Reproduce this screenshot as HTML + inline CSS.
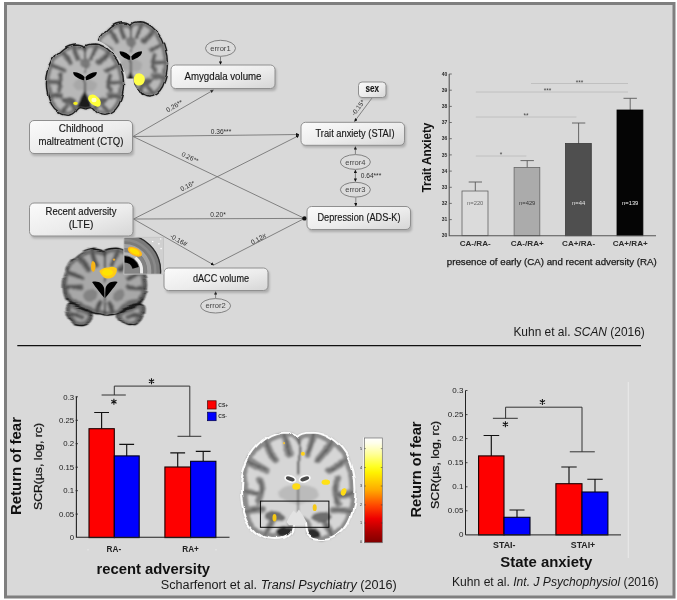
<!DOCTYPE html>
<html>
<head>
<meta charset="utf-8">
<title>Figure</title>
<style>
html,body{margin:0;padding:0;background:#fff;}
body{width:677px;height:600px;overflow:hidden;font-family:"Liberation Sans",sans-serif;}
svg{display:block;filter:blur(0.4px);}
text{font-family:"Liberation Sans",sans-serif;}
.bx{fill:url(#boxg);stroke:#8f8f8f;stroke-width:1;}
.ln{stroke:#6a6a6a;stroke-width:0.8;fill:none;}
.el{fill:#dcdcdc;stroke:#777;stroke-width:0.9;}
.bt{font-size:10.2px;fill:#161616;stroke:#161616;stroke-width:0.15px;}
.et{font-size:7.6px;fill:#444;}
.pl{font-size:6.6px;fill:#2c2c2c;}
.ax{stroke:#222;stroke-width:1;fill:none;}
</style>
</head>
<body>
<svg width="677" height="600" viewBox="0 0 677 600">
<defs>
  <linearGradient id="boxg" x1="0" y1="0" x2="1" y2="1">
    <stop offset="0" stop-color="#fbfbfb"/>
    <stop offset="0.55" stop-color="#ececec"/>
    <stop offset="1" stop-color="#d6d6d6"/>
  </linearGradient>
  <filter id="soft" x="-5%" y="-5%" width="110%" height="110%"><feGaussianBlur stdDeviation="0.45"/></filter>
  <filter id="bshadow" x="-10%" y="-20%" width="120%" height="150%"><feGaussianBlur stdDeviation="1.2"/></filter>
  <marker id="ah" viewBox="0 0 6 6" refX="5.5" refY="3" markerWidth="4.2" markerHeight="4.2" orient="auto-start-reverse">
    <path d="M0 0 L6 3 L0 6 Z" fill="#111"/>
  </marker>
  <g id="star" stroke="#111" stroke-width="1.05" stroke-linecap="butt" fill="none">
    <path d="M0 -3 V3 M-2.600 -1.500 L2.600 1.500 M-2.600 1.500 L2.600 -1.500"/>
  </g>
</defs>

<!-- frame -->
<rect x="0" y="0" width="677" height="600" fill="#ffffff"/>
<rect x="5.5" y="3.5" width="668.5" height="593.5" fill="#d9d9d9" stroke="#7f7f7f" stroke-width="3"/>

<!-- separator -->
<line x1="17.300" y1="345.600" x2="641" y2="345.600" stroke="#111" stroke-width="1.300"/>

<!-- ================= PATH DIAGRAM ================= -->
<g id="paths">
  <!-- lines -->
  <line class="ln" x1="133" y1="136.5" x2="213.5" y2="90" marker-end="url(#ah)"/>
  <line class="ln" x1="133" y1="136.5" x2="299" y2="134.5" marker-end="url(#ah)"/>
  <line class="ln" x1="133" y1="136.500" x2="304.500" y2="218.400"/>
  <line class="ln" x1="133.5" y1="219" x2="299" y2="135.5" marker-end="url(#ah)"/>
  <line class="ln" x1="133.500" y1="219" x2="304.500" y2="218.400"/>
  <line class="ln" x1="133.5" y1="219" x2="213.8" y2="265" marker-end="url(#ah)"/>
  <line class="ln" x1="213.800" y1="265" x2="304.500" y2="218.400"/>
  <line class="ln" x1="372" y1="98" x2="354.5" y2="121.5" marker-end="url(#ah)"/>
  <line class="ln" x1="220.5" y1="56.5" x2="220.5" y2="64.5" marker-end="url(#ah)"/>
  <line class="ln" x1="355.4" y1="154.5" x2="355.4" y2="146.5" marker-end="url(#ah)"/>
  <line class="ln" x1="355.4" y1="170" x2="355.4" y2="181.5" marker-end="url(#ah)" marker-start="url(#ah)"/>
  <line class="ln" x1="355.8" y1="197.5" x2="355.8" y2="206" marker-end="url(#ah)"/>
  <line class="ln" x1="215.6" y1="298.5" x2="215.6" y2="291.5" marker-end="url(#ah)"/>
  <circle cx="304.500" cy="218.400" r="2.200" fill="#111"/>
</g>

<g id="boxes">
  <!-- shadows -->
  <g fill="#8a8a8a" opacity="0.55" filter="url(#bshadow)">
    <rect x="31" y="123" width="103" height="33" rx="4"/>
    <rect x="31" y="205.5" width="103.5" height="33" rx="4"/>
    <rect x="172.5" y="67.5" width="104" height="23.5" rx="4"/>
    <rect x="302.5" y="124.5" width="103.5" height="23" rx="4"/>
    <rect x="308.5" y="209" width="103.5" height="23" rx="4"/>
    <rect x="165.5" y="270.5" width="104" height="22.5" rx="4"/>
    <rect x="360" y="84" width="27.5" height="15.5" rx="3"/>
  </g>
  <rect class="bx" x="29.5" y="120.5" width="103" height="33" rx="4.5"/>
  <rect class="bx" x="29.5" y="203" width="103.5" height="33" rx="4.5"/>
  <rect class="bx" x="171" y="65" width="104" height="23.5" rx="4.5"/>
  <rect class="bx" x="301" y="122.3" width="103.5" height="23" rx="4.5"/>
  <rect class="bx" x="307" y="206.5" width="103.5" height="23" rx="4.5"/>
  <rect class="bx" x="164" y="268" width="104" height="22.5" rx="4.5"/>
  <rect class="bx" x="358.5" y="82" width="27.5" height="15.5" rx="3.5"/>

  <ellipse class="el" cx="220.5" cy="48.3" rx="15" ry="8"/>
  <ellipse class="el" cx="355.4" cy="162" rx="15" ry="7.4"/>
  <ellipse class="el" cx="355.4" cy="189.7" rx="15" ry="7.4"/>
  <ellipse class="el" cx="215.6" cy="305.8" rx="15" ry="7.2"/>
</g>

<g id="boxtext" text-anchor="middle">
  <text class="bt" x="81" y="132.4" textLength="44.500" lengthAdjust="spacingAndGlyphs">Childhood</text>
  <text class="bt" x="81" y="145.0" textLength="85" lengthAdjust="spacingAndGlyphs">maltreatment (CTQ)</text>
  <text class="bt" x="81" y="215.4" textLength="71" lengthAdjust="spacingAndGlyphs">Recent adversity</text>
  <text class="bt" x="81" y="228.4">(LTE)</text>
  <text class="bt" x="223" y="79.9" textLength="77" lengthAdjust="spacingAndGlyphs">Amygdala volume</text>
  <text class="bt" x="355" y="136.9" textLength="79" lengthAdjust="spacingAndGlyphs">Trait anxiety (STAI)</text>
  <text class="bt" x="359" y="220.9" textLength="83" lengthAdjust="spacingAndGlyphs">Depression (ADS-K)</text>
  <text class="bt" x="221" y="282.4" textLength="56" lengthAdjust="spacingAndGlyphs">dACC volume</text>
  <text class="bt" x="372.300" y="92.2" font-weight="bold" font-size="9" textLength="13.500" lengthAdjust="spacingAndGlyphs">sex</text>
  <text class="et" x="220.5" y="51">error1</text>
  <text class="et" x="355.4" y="164.6">error4</text>
  <text class="et" x="355.4" y="192.3">error3</text>
  <text class="et" x="215.6" y="308.3">error2</text>
</g>

<g id="pathlabels" text-anchor="middle">
  <text class="pl" transform="translate(175.500,108) rotate(-30)">0.26**</text>
  <text class="pl" x="221" y="133.5">0.36***</text>
  <text class="pl" transform="translate(189,159.500) rotate(25.500)">0.26**</text>
  <text class="pl" transform="translate(188.500,188) rotate(-27)">0.16*</text>
  <text class="pl" x="218" y="217">0.20*</text>
  <text class="pl" transform="translate(177.500,242) rotate(30)">-0.16#</text>
  <text class="pl" transform="translate(259.500,241) rotate(-27)">0.12#</text>
  <text class="pl" transform="translate(360,109) rotate(-54)">-0.15*</text>
  <text class="pl" x="371" y="178.3">0.64***</text>
</g>

<!--BRAINS_START-->
<defs>
  <filter id="bblur" x="-10%" y="-10%" width="120%" height="120%"><feTurbulence type="fractalNoise" baseFrequency="0.055" numOctaves="1" seed="3" result="n"/><feDisplacementMap in="SourceGraphic" in2="n" scale="9" xChannelSelector="R" yChannelSelector="G" result="d"/><feGaussianBlur in="d" stdDeviation="1.4"/></filter>
  <filter id="eblur" x="-10%" y="-10%" width="120%" height="120%"><feTurbulence type="fractalNoise" baseFrequency="0.055" numOctaves="1" seed="3" result="n"/><feDisplacementMap in="SourceGraphic" in2="n" scale="9" xChannelSelector="R" yChannelSelector="G" result="d"/><feGaussianBlur in="d" stdDeviation="1.0"/></filter>
  <filter id="yblur" x="-30%" y="-30%" width="160%" height="160%"><feGaussianBlur stdDeviation="0.7"/></filter>
  <!-- Brain A : posterior coronal slice -->
  <path id="outA" d="M50 4.5 C52 2 57 1 62 1 C73 1.5 84 10 91 22 C96 32 99 44 99.5 56 C99.5 66 97 78 93 86 C89 94 81 100 73 100 C67 100 63 96 61 92 C59 89 56 89 54 90 C52 91 51 91 50 91 C49 91 48 91 46 90 C44 89 41 89 39 92 C37 96 33 100 27 100 C19 100 11 94 7 86 C3 78 0.5 66 0.5 56 C1 44 4 32 9 22 C16 10 27 1.5 38 1 C43 1 48 2 50 4.5 Z"/>
  <clipPath id="clipA"><use href="#outA"/></clipPath>
  <g id="sulciA">
    <path d="M64 0 C64 9 62 15 59 22"/>
    <path d="M82 8 C78 16 74 21 69 27"/>
    <path d="M95 29 C88 31 83 34 77 38"/>
    <path d="M100 55 C93 54 88 56 83 55 M83 44 C81 50 81 58 84 66"/>
    <path d="M97 76 C91 73 86 72 80 73"/>
    <path d="M80 100 C79 94 76 90 73 86"/>
    <path d="M62 96 C63 91 64 88 66 85"/>
  </g>
  <symbol id="brainA" viewBox="0 0 100 100" overflow="visible" preserveAspectRatio="none">
    <g filter="url(#bblur)">
      <use href="#outA" style="fill:var(--wm)"/>
      <g clip-path="url(#clipA)">
        <use href="#outA" style="fill:none;stroke:var(--gm);stroke-width:10"/>
        <g style="fill:none;stroke:var(--gm);stroke-width:7;stroke-linecap:round">
          <use href="#sulciA"/><use href="#sulciA" transform="translate(100,0) scale(-1,1)"/>
        </g>
        <g style="fill:none;stroke:var(--sl);stroke-width:1.5;stroke-linecap:round">
          <use href="#sulciA"/><use href="#sulciA" transform="translate(100,0) scale(-1,1)"/>
          <path d="M50 4 L50 40" stroke-width="2.2"/>
        </g>
        <!-- deep gray nuclei -->
        <ellipse cx="50" cy="58" rx="15" ry="9" style="fill:var(--gm)" opacity="0.220"/>
        <ellipse cx="50" cy="29" rx="7.500" ry="7" style="fill:var(--gm)" opacity="0.900"/>
        <ellipse cx="70" cy="79" rx="9" ry="4.500" style="fill:var(--sl)" opacity="0.75" transform="rotate(-12 70 79)"/>
        <ellipse cx="30" cy="79" rx="9" ry="4.500" style="fill:var(--sl)" opacity="0.75" transform="rotate(12 30 79)"/>
        <path d="M50 66 C47.500 72 41 82 39.500 89.500 C45 92 55 92 60.500 89.500 C59 82 52.500 72 50 66 Z" style="fill:var(--bs)"/>
        <path d="M50 49 L50 68" style="stroke:var(--bs);stroke-width:1.5"/>
      </g>
    </g>
    <use href="#outA" style="fill:none;stroke:var(--edge);stroke-width:1.8" filter="url(#eblur)"/>
    <!-- ventricles -->
    <g style="fill:var(--vent)" filter="url(#yblur)">
      <path d="M50.600 46.800 C53 43.300 58 40.300 65 39.800 C66 45 58.500 49.500 51.500 51.300 Z"/>
      <path d="M49.400 46.800 C47 43.300 42 40.300 35 39.800 C34 45 41.500 49.500 48.500 51.300 Z"/>
    </g>
  </symbol>

  <!-- Brain B : anterior coronal slice with separate temporal poles -->
  <path id="outB" d="M50 4 C53 1 58 0 64 0.500 C77 2 88 11 94 24 C99 35 100.500 47 99 57 C98 64 96 69 93 71 C88 74 80 76 74 78 C70 80 67 82 64 83 C59 85 54 84 50 86 C46 84 41 85 36 83 C33 82 30 80 26 78 C20 76 12 74 7 71 C4 69 2 64 1 57 C-0.500 47 1 35 6 24 C12 11 23 2 36 0.500 C42 0 47 1 50 4 Z M70 79 C78 73 90 70 95 73 C98 77 97 86 93 92 C89 98 82 100.500 76 99 C70 97.500 66 92 66 87 C66 83 67 81 70 79 Z M30 79 C22 73 10 70 5 73 C2 77 3 86 7 92 C11 98 18 100.500 24 99 C30 97.500 34 92 34 87 C34 83 33 81 30 79 Z"/>
  <clipPath id="clipB"><use href="#outB"/></clipPath>
  <g id="sulciB">
    <path d="M65 0 C65 10 63 16 60 23"/>
    <path d="M84 9 C79 17 75 22 70 28"/>
    <path d="M97 30 C90 32 84 35 78 39"/>
    <path d="M100 52 C92 51 85 52 78 50"/>
    <path d="M96 70 C88 72 80 75 72 78"/>
    <path d="M94 88 C88 85 83 85 78 88"/>
    <path d="M60 86 C60 80 58 75 56 71"/>
  </g>
  <symbol id="brainB" viewBox="0 0 100 100" overflow="visible" preserveAspectRatio="none">
    <g filter="url(#bblur)">
      <use href="#outB" style="fill:var(--wm)"/>
      <g clip-path="url(#clipB)">
        <use href="#outB" style="fill:none;stroke:var(--gm);stroke-width:10"/>
        <g style="fill:none;stroke:var(--gm);stroke-width:7;stroke-linecap:round">
          <use href="#sulciB"/><use href="#sulciB" transform="translate(100,0) scale(-1,1)"/>
        </g>
        <g style="fill:none;stroke:var(--sl);stroke-width:1.5;stroke-linecap:round">
          <use href="#sulciB"/><use href="#sulciB" transform="translate(100,0) scale(-1,1)"/>
          <path d="M50 4 L50 44" stroke-width="2.2"/>
          <path d="M50 64 L50 85" stroke-width="2"/>
        </g>
        <ellipse cx="33" cy="60" rx="8" ry="8" style="fill:var(--gm)" opacity="0.6"/>
        <ellipse cx="67" cy="60" rx="8" ry="8" style="fill:var(--gm)" opacity="0.6"/>
      </g>
    </g>
    <use href="#outB" style="fill:none;stroke:var(--edge);stroke-width:1.8" filter="url(#eblur)"/>
    <g style="fill:var(--vent)" filter="url(#yblur)">
      <path d="M50.500 64 C54 59.500 60.500 51.500 65.500 43.500 C58 41.500 52 45.500 50.800 52 C50.400 56 50.400 60 50.500 64 Z"/>
      <path d="M49.500 64 C46 59.500 39.500 51.500 34.500 43.500 C42 41.500 48 45.500 49.200 52 C49.600 56 49.600 60 49.500 64 Z"/>
    </g>
  </symbol>
</defs>

<g id="brains" style="--wm:#b8b8b8;--gm:#747474;--sl:#424242;--edge:#1e1e1e;--bs:#1c1c1c;--vent:#050505">
  <!-- back brain -->
  <use href="#brainA" x="93.8" y="21" width="74" height="76"/>
  <path d="M136 74 q5 -2 8 2 q2 4 -1 8 q-4 3 -8 0 q-3 -5 1 -10 z" fill="#ffff4a" filter="url(#yblur)"/>
  <!-- mask where front image covers back brain -->
  <path d="M88 15 L93.5 39 C108 43 122 57 126.500 78.500 L133.500 78.500 L134 84 C138 92 142 96 148 101 L88 105 Z" fill="#d9d9d9"/>
  <!-- front brain -->
  <use href="#brainA" x="46" y="43.3" width="78" height="72"/>
  <path d="M89.300 95.500 q4.500 -2.500 7.500 1 q3.500 2 4 6 q0 4.500 -3.500 4.300 q-5.500 -1.500 -8.500 -6 q-1.500 -3 0.500 -5.300 z" fill="#ffff38" filter="url(#yblur)"/><ellipse cx="94" cy="100" rx="2.600" ry="2.200" fill="#ffffc8" filter="url(#yblur)"/>
  <ellipse cx="75.500" cy="103.300" rx="2.300" ry="1.600" fill="#f5ee20" filter="url(#yblur)"/>

  <!-- brain 3 -->
  <use href="#brainB" x="63.600" y="248" width="82.500" height="78" style="--wm:#a8a8a8;--gm:#6a6a6a;--sl:#363636;--edge:#151515"/>
  <path d="M99.300 271 q4 -4 9 -3.500 q5 -2 8.500 1 q0.500 5 -3.500 8.500 q-6 3 -10 0 q-3 -3 -4 -6 z" fill="#ffcc14" filter="url(#yblur)"/><ellipse cx="107.500" cy="272.500" rx="5.500" ry="3.300" fill="#ffe400" filter="url(#yblur)"/>
  <path d="M92.500 261 q3 0.500 3 4.500 q0 5 -2 6.500 q-2.500 -1 -2.500 -5.500 q0 -4 1.500 -5.500 z" fill="#f7b416" filter="url(#yblur)"/>
  <circle cx="114" cy="259.600" r="1.200" fill="#e8a830"/>
  <!-- inset sagittal -->
  <g>
    <clipPath id="insclip"><rect x="123.900" y="237.300" width="39.700" height="36.800"/></clipPath>
    <rect x="123.900" y="237.300" width="39.700" height="36.800" fill="#d0d0d0"/>
    <g clip-path="url(#insclip)" filter="url(#yblur)">
      <circle cx="124.300" cy="271" r="36.900" fill="#7a7a7a"/>
      <circle cx="124.300" cy="271" r="36.300" fill="none" stroke="#2a2a2a" stroke-width="1.300"/>
      <circle cx="124.300" cy="271" r="31" fill="none" stroke="#8a8a8a" stroke-width="2.500"/>
      <circle cx="124.300" cy="271" r="25" fill="none" stroke="#a2a2a2" stroke-width="4"/>
      <circle cx="124.300" cy="271" r="20.500" fill="none" stroke="#828282" stroke-width="4"/>
      <circle cx="124.300" cy="271" r="17.300" fill="none" stroke="#b4b4b4" stroke-width="3"/>
      <path d="M135.400 257.700 A17.300 17.300 0 0 1 141.500 273" fill="none" stroke="#ececec" stroke-width="3"/>
      <circle cx="124.300" cy="271" r="15.500" fill="#858585"/>
      <path d="M124.300 256 A15 15 0 0 1 138.800 267.100 L132.500 268.800 A8.500 8.500 0 0 0 124.300 262.500 Z" fill="#060606"/>
      <ellipse cx="134.900" cy="251.700" rx="7.800" ry="3.900" transform="rotate(27 134.900 251.700)" fill="#ffb81a"/>
      <ellipse cx="134.500" cy="251.500" rx="5.500" ry="2.500" transform="rotate(27 134.500 251.500)" fill="#ffe000"/>
      <circle cx="152.700" cy="241.500" r="0.800" fill="#fff"/><circle cx="158.900" cy="243.700" r="0.800" fill="#fff"/><circle cx="160.700" cy="238.900" r="0.700" fill="#fff"/><circle cx="161.100" cy="248.600" r="0.800" fill="#fff"/>
    </g>
    <rect x="123.900" y="237.300" width="39.700" height="36.800" fill="none" stroke="#c4c4c4" stroke-width="0.800"/>
  </g>
</g>

<!--BRAINS_END-->
<!--CHARTS_START-->
<!-- ============ CHART 1 : Trait anxiety ============ -->
<g id="chart1">
  <!-- significance lines -->
  <g stroke="#bababa" stroke-width="0.800">
    <line x1="475.8" y1="156" x2="526.3" y2="156"/>
    <line x1="475.8" y1="117" x2="576.4" y2="117"/>
    <line x1="475.8" y1="92" x2="628" y2="92"/>
    <line x1="531" y1="83.500" x2="628" y2="83.500"/>
  </g>
  <g font-size="6.5" fill="#444" text-anchor="middle">
    <text x="501" y="157">*</text>
    <text x="526" y="118">**</text>
    <text x="547.500" y="93">***</text>
    <text x="579.500" y="84.500">***</text>
  </g>
  <!-- error bars -->
  <g stroke="#5a5a5a" stroke-width="0.9" fill="none">
    <path d="M475.300 191 V182 M468.700 182 H482"/>
    <path d="M527.2 168 V160.600 M520.500 160.600 H533.900"/>
    <path d="M578.6 144 V123 M572 123 H585.300"/>
    <path d="M630.2 110.500 V98.300 M623.500 98.300 H636.900"/>
  </g>
  <!-- bars -->
  <rect x="462" y="191" width="26" height="44.700" fill="#dbdbdb" stroke="#5a5a5a" stroke-width="0.750"/>
  <rect x="514.100" y="167.400" width="25.700" height="68.300" fill="#ababab" stroke="#666" stroke-width="0.8"/>
  <rect x="565.500" y="143.500" width="25.800" height="92.200" fill="#4f4f4f" stroke="#3a3a3a" stroke-width="0.8"/>
  <rect x="617" y="110" width="25.900" height="125.700" fill="#050505" stroke="#000" stroke-width="0.8"/>
  <!-- axes -->
  <path d="M449.200 74 V235.700 H656" stroke="#555" stroke-width="1.100" fill="none"/>
  <g stroke="#555" stroke-width="0.800">
    <path d="M449.200 74.0 h2.600 M449.200 90.2 h2.600 M449.200 106.4 h2.600 M449.200 122.5 h2.600 M449.200 138.7 h2.600 M449.200 154.9 h2.600 M449.200 171.1 h2.600 M449.200 187.3 h2.600 M449.200 203.4 h2.600 M449.200 219.6 h2.600"/>
  </g>
  <g font-size="5" fill="#2a2a2a" text-anchor="end" font-weight="bold">
    <text x="447.200" y="75.600">40</text><text x="447.200" y="91.800">39</text><text x="447.200" y="108">38</text>
    <text x="447.200" y="124.100">37</text><text x="447.200" y="140.300">36</text><text x="447.200" y="156.500">35</text>
    <text x="447.200" y="172.700">34</text><text x="447.200" y="188.900">33</text><text x="447.200" y="205">32</text>
    <text x="447.200" y="221.200">31</text><text x="447.200" y="237.400">30</text>
  </g>
  <g font-size="5.800" text-anchor="middle">
    <text x="475.200" y="204.500" fill="#666">n=220</text>
    <text x="527.200" y="204.500" fill="#333">n=429</text>
    <text x="578.600" y="204.500" fill="#e4e4e4">n=44</text>
    <text x="630.200" y="204.500" fill="#f4f4f4">n=139</text>
  </g>
  <g font-size="8" font-weight="bold" fill="#2a2a2a" text-anchor="middle">
    <text x="475.200" y="246.400" textLength="31" lengthAdjust="spacingAndGlyphs">CA-/RA-</text>
    <text x="527.200" y="246.400" textLength="33" lengthAdjust="spacingAndGlyphs">CA-/RA+</text>
    <text x="578.600" y="246.400" textLength="33" lengthAdjust="spacingAndGlyphs">CA+/RA-</text>
    <text x="630.200" y="246.400" textLength="35" lengthAdjust="spacingAndGlyphs">CA+/RA+</text>
  </g>
  <text x="551.800" y="264.800" font-size="9.800" fill="#1a1a1a" stroke="#1a1a1a" stroke-width="0.250" text-anchor="middle" textLength="210" lengthAdjust="spacingAndGlyphs">presence of early (CA) and recent adversity (RA)</text>
  <text transform="translate(431.300,157.600) rotate(-90)" font-size="12.200" font-weight="bold" fill="#111" text-anchor="middle" textLength="70" lengthAdjust="spacingAndGlyphs">Trait Anxiety</text>
</g>

<!-- ============ CHART 2 : recent adversity ============ -->
<g id="chart2">
  <g stroke="#111" stroke-width="1.150" fill="none">
    <path d="M101.600 412.500 V428.700 M94.200 412.500 H109"/>
    <path d="M126.700 444.400 V456 M119.300 444.400 H134.100"/>
    <path d="M177.700 452.800 V467 M170.300 452.800 H185.100"/>
    <path d="M203.200 451.300 V461.300 M195.800 451.300 H210.600"/>
  </g>
  <rect x="89" y="428.700" width="25.300" height="108.900" fill="#fe0000" stroke="#1c0000" stroke-width="1.100"/>
  <rect x="114.300" y="455.900" width="24.900" height="81.700" fill="#0000fe" stroke="#00001c" stroke-width="1.100"/>
  <rect x="164.900" y="467" width="25.700" height="70.600" fill="#fe0000" stroke="#1c0000" stroke-width="1.100"/>
  <rect x="190.600" y="461.300" width="25.300" height="76.300" fill="#0000fe" stroke="#00001c" stroke-width="1.100"/>
  <path d="M76.400 396.600 V537.300 H229.500" stroke="#222" stroke-width="1.100" fill="none"/>
  <path d="M75.600 396.800 h2.400 M75.600 420.300 h2.400 M75.600 443.700 h2.400 M75.600 467.200 h2.400 M75.600 490.700 h2.400 M75.600 514.100 h2.400" stroke="#222" stroke-width="0.800"/>
  <circle cx="88" cy="549.800" r="0.600" fill="#f4f4f4"/><circle cx="216" cy="549.800" r="0.600" fill="#f4f4f4"/>
  <g font-size="7.800" fill="#1c1c1c" text-anchor="end">
    <text x="74.200" y="399.500">0.3</text><text x="74.200" y="423">0.25</text><text x="74.200" y="446.400">0.2</text>
    <text x="74.200" y="469.900">0.15</text><text x="74.200" y="493.400">0.1</text><text x="74.200" y="516.800">0.05</text><text x="74.200" y="540.300">0</text>
  </g>
  <!-- bracket -->
  <path d="M114.300 395 V386.100 H189.800 V436.300 M101.600 395 H125.800 M177.500 436.300 H201.300" stroke="#333" stroke-width="1" fill="none"/>
  <use href="#star" x="151.500" y="381.300"/>
  <use href="#star" x="113.900" y="401.800"/>
  <!-- legend -->
  <rect x="207.600" y="400.800" width="8.500" height="8.200" fill="#fe0000" stroke="#400" stroke-width="0.700"/>
  <rect x="207.600" y="412.200" width="8.500" height="8.500" fill="#0000fe" stroke="#004" stroke-width="0.700"/>
  <text x="218.300" y="406.800" font-size="5" font-weight="bold" fill="#333">CS+</text>
  <text x="218.300" y="418.400" font-size="5" font-weight="bold" fill="#333">CS-</text>
  <g font-size="9.300" font-weight="bold" fill="#222" text-anchor="middle">
    <text x="113.900" y="552" textLength="14.600" lengthAdjust="spacingAndGlyphs">RA-</text><text x="190.600" y="552" textLength="16.600" lengthAdjust="spacingAndGlyphs">RA+</text>
  </g>
  <text x="153.300" y="574" font-size="14" font-weight="bold" fill="#111" text-anchor="middle" textLength="113.500" lengthAdjust="spacingAndGlyphs">recent adversity</text>
  <text transform="translate(21,466) rotate(-90)" font-size="14.800" font-weight="bold" fill="#111" text-anchor="middle" textLength="98" lengthAdjust="spacingAndGlyphs">Return of fear</text>
  <text transform="translate(41.800,466.500) rotate(-90)" font-size="10.600" fill="#111" stroke="#111" stroke-width="0.250" text-anchor="middle" textLength="87" lengthAdjust="spacingAndGlyphs">SCR(µs, log, rc)</text>
</g>

<!-- ============ CHART 3 : state anxiety ============ -->
<g id="chart3">
  <path d="M628.300 382 V558" stroke="#ececec" stroke-width="0.900"/>
  <g stroke="#111" stroke-width="1.150" fill="none">
    <path d="M491.300 435.500 V456 M483.600 435.500 H499.200"/>
    <path d="M517 510 V517.500 M509.500 510 H524.500"/>
    <path d="M569 467 V484 M561.300 467 H576.700"/>
    <path d="M595 479.200 V492 M587.300 479.200 H602.700"/>
  </g>
  <rect x="478.600" y="455.900" width="25.400" height="79" fill="#fe0000" stroke="#1c0000" stroke-width="1.100"/>
  <rect x="504" y="517.300" width="26" height="17.600" fill="#0000fe" stroke="#00001c" stroke-width="1.100"/>
  <rect x="555.900" y="483.700" width="26.100" height="51.200" fill="#fe0000" stroke="#1c0000" stroke-width="1.100"/>
  <rect x="582" y="492" width="25.900" height="42.900" fill="#0000fe" stroke="#00001c" stroke-width="1.100"/>
  <path d="M465.500 390.500 V534.900 H621" stroke="#222" stroke-width="1" fill="none"/>
  <path d="M465.500 390.500 h2 M465.500 414.600 h2 M465.500 438.600 h2 M465.500 462.700 h2 M465.500 486.800 h2 M465.500 510.800 h2" stroke="#222" stroke-width="0.8"/>
  <g font-size="8" fill="#1c1c1c" text-anchor="end">
    <text x="463.400" y="393">0.3</text><text x="463.400" y="417.100">0.25</text><text x="463.400" y="441.100">0.2</text>
    <text x="463.400" y="465.200">0.15</text><text x="463.400" y="489.300">0.1</text><text x="463.400" y="513.300">0.05</text><text x="463.400" y="537.400">0</text>
  </g>
  <path d="M505.600 418.300 V407.200 H582 V451.800 M492.900 418.300 H517.800 M569.800 451.800 H594.800" stroke="#333" stroke-width="1" fill="none"/>
  <use href="#star" x="542.400" y="402"/>
  <use href="#star" x="505.400" y="424.300"/>
  <g font-size="9.300" font-weight="bold" fill="#222" text-anchor="middle">
    <text x="504.300" y="547.900" textLength="22.400" lengthAdjust="spacingAndGlyphs">STAI-</text><text x="583" y="547.900" textLength="24.400" lengthAdjust="spacingAndGlyphs">STAI+</text>
  </g>
  <text x="546.300" y="567" font-size="14" font-weight="bold" fill="#111" text-anchor="middle" textLength="92" lengthAdjust="spacingAndGlyphs">State anxiety</text>
  <text transform="translate(421.400,469.500) rotate(-90)" font-size="14.800" font-weight="bold" fill="#111" text-anchor="middle" textLength="96" lengthAdjust="spacingAndGlyphs">Return of fear</text>
  <text transform="translate(438.600,465) rotate(-90)" font-size="10.600" fill="#111" stroke="#111" stroke-width="0.250" text-anchor="middle" textLength="88" lengthAdjust="spacingAndGlyphs">SCR(µs, log, rc)</text>
</g>

<!-- ============ CAPTIONS ============ -->
<g id="captions" font-size="12" fill="#1a1a1a">
  <text x="513.400" y="336" textLength="131.400" lengthAdjust="spacingAndGlyphs">Kuhn et al. <tspan font-style="italic">SCAN</tspan> (2016)</text>
  <text x="160.800" y="588.500" textLength="236" lengthAdjust="spacingAndGlyphs">Scharfenort et al. <tspan font-style="italic">Transl Psychiatry</tspan>  (2016)</text>
  <text x="452" y="586.300" textLength="206.600" lengthAdjust="spacingAndGlyphs">Kuhn et al. <tspan font-style="italic">Int. J Psychophysiol</tspan> (2016)</text>
</g>

<!--CHARTS_END-->
<!--CENTER_START-->
<defs>
  <filter id="cblur" x="-10%" y="-10%" width="120%" height="120%"><feTurbulence type="fractalNoise" baseFrequency="0.05" numOctaves="1" seed="11" result="n"/><feDisplacementMap in="SourceGraphic" in2="n" scale="8" xChannelSelector="R" yChannelSelector="G" result="d"/><feGaussianBlur in="d" stdDeviation="1.0"/></filter>
  <filter id="chalo" x="-10%" y="-10%" width="120%" height="120%"><feTurbulence type="fractalNoise" baseFrequency="0.05" numOctaves="1" seed="11" result="n"/><feDisplacementMap in="SourceGraphic" in2="n" scale="8" xChannelSelector="R" yChannelSelector="G" result="d"/><feGaussianBlur in="d" stdDeviation="0.55"/></filter>
  <path id="outC" d="M50 4.500 C52 1.500 57 0.500 62 0.500 C74 1 85 9 92 21 C97 31 99.500 43 99.500 53 C99.500 63 98 74 94 83 C90 92 82 99 72 100 C66 100.500 60 99 57 95 C55 92 55.500 88 55 85 L53 83 L50 84 L47 83 L45 85 C44.500 88 45 92 43 95 C40 99 34 100.500 28 100 C18 99 10 92 6 83 C2 74 0.500 63 0.500 53 C0.500 43 3 31 8 21 C15 9 26 1 38 0.500 C43 0.500 48 1.500 50 4.500 Z"/>
  <clipPath id="clipC"><use href="#outC"/></clipPath>
  <g id="sulciC">
    <path d="M63 0 C63 8 61 14 58 20"/>
    <path d="M81 7 C77 15 73 20 68 26"/>
    <path d="M94 26 C88 29 83 32 77 36"/>
    <path d="M100 56 C94 56 90 60 85 58 M84 44 C81 50 82 58 85 66"/>
    <path d="M98 76 C92 73 87 72 81 73"/>
    <path d="M80 100 C79 94 76 90 73 86"/>
  </g>
  <linearGradient id="hot" x1="0" y1="0" x2="0" y2="1">
    <stop offset="0" stop-color="#ffffff"/>
    <stop offset="0.05" stop-color="#ffffea"/>
    <stop offset="0.15" stop-color="#ffff9a"/>
    <stop offset="0.27" stop-color="#ffff24"/>
    <stop offset="0.33" stop-color="#fff200"/>
    <stop offset="0.50" stop-color="#ffa800"/>
    <stop offset="0.65" stop-color="#ff4400"/>
    <stop offset="0.77" stop-color="#ee0000"/>
    <stop offset="0.90" stop-color="#aa0000"/>
    <stop offset="1" stop-color="#800000"/>
  </linearGradient>
  <symbol id="brainC" viewBox="0 0 100 100" overflow="visible" preserveAspectRatio="none">
    <g filter="url(#cblur)">
      <use href="#outC" style="fill:var(--wm)"/>
      <g clip-path="url(#clipC)">
        <use href="#outC" style="fill:none;stroke:var(--gm);stroke-width:9"/>
        <g style="fill:none;stroke:var(--gm);stroke-width:6.500;stroke-linecap:round">
          <use href="#sulciC"/><use href="#sulciC" transform="translate(100,0) scale(-1,1)"/>
        </g>
        <g style="fill:none;stroke:var(--sl);stroke-width:1.500;stroke-linecap:round">
          <use href="#sulciC"/><use href="#sulciC" transform="translate(100,0) scale(-1,1)"/>
          <path d="M50 4 L50 38" stroke-width="2"/>
        </g>
        <ellipse cx="50" cy="58" rx="16" ry="9" style="fill:var(--gm)" opacity="0.350"/>
        <ellipse cx="70" cy="80" rx="9" ry="5" style="fill:var(--sl)" opacity="0.800" transform="rotate(-8 70 80)"/>
        <ellipse cx="30" cy="80" rx="9" ry="5" style="fill:var(--sl)" opacity="0.800" transform="rotate(8 30 80)"/>
        <ellipse cx="38.500" cy="94.500" rx="7" ry="4.500" style="fill:var(--bs)"/>
        <ellipse cx="61.500" cy="94.500" rx="7" ry="4.500" style="fill:var(--bs)"/>
        <path d="M50 50 L50 80" style="stroke:var(--sl);stroke-width:1.200"/>
      </g>
    </g>
    <use href="#outC" style="fill:none;stroke:#fcfcfc;stroke-width:1.800" filter="url(#chalo)"/>
  </symbol>
</defs>
<g id="centerbrain" style="--wm:#d6d6d6;--gm:#8a8a8a;--sl:#545454;--bs:#2a2a2a">
  <use href="#brainC" x="240.300" y="432.100" width="115.800" height="106.800"/>
  <!-- cutout -->
  <path d="M286.500 522 L289.500 516.500 L293.500 510.500 L296.300 513.300 L299 509.500 L303.500 516.500 L306.500 522 L304 525.300 L289 525.300 Z" fill="#e2e2e2" filter="url(#yblur)"/>
  <!-- ventricles -->
  <g filter="url(#yblur)">
    <ellipse cx="290.300" cy="478.900" rx="5.400" ry="2.900" fill="#4a4a4a" stroke="#fafafa" stroke-width="1.700" transform="rotate(18 290.300 478.900)"/>
    <ellipse cx="304.700" cy="478.900" rx="5.400" ry="2.900" fill="#4a4a4a" stroke="#fafafa" stroke-width="1.700" transform="rotate(-18 304.700 478.900)"/>
  </g>
  <!-- activations -->
  <g fill="#ffd21e" filter="url(#yblur)">
    <circle cx="284" cy="443.200" r="1.100" fill="#f0c040"/>
    <circle cx="302.900" cy="453.800" r="2"/>
    <ellipse cx="296.300" cy="486.500" rx="4" ry="3.300" fill="#ffdc14"/>
    <ellipse cx="325.800" cy="482.200" rx="4.200" ry="2.600" fill="#ffe114"/>
    <ellipse cx="343.600" cy="491.900" rx="2.600" ry="3.800" fill="#ffdc14" transform="rotate(20 343.600 491.900)"/>
    <ellipse cx="314.700" cy="507.700" rx="2" ry="3.400" fill="#f5c814"/>
    <ellipse cx="274.500" cy="517.700" rx="2" ry="3.800" fill="#f5c814"/>
  </g>
  <rect x="260.400" y="501.100" width="68.500" height="26.200" fill="none" stroke="#0a0a0a" stroke-width="1"/>
  <!-- colorbar -->
  <rect x="364.400" y="438" width="17.900" height="104.700" fill="url(#hot)"/>
  <path d="M363.600 543 V437.400" fill="none" stroke="#f6f6f6" stroke-width="0.900"/>
  <rect x="364.400" y="438" width="17.900" height="104.700" fill="none" stroke="#707070" stroke-width="0.700"/>
    <g font-size="3.800" fill="#333" text-anchor="end">
    <text x="362" y="450">5</text><text x="362" y="468.900">4</text><text x="362" y="487.400">3</text>
    <text x="362" y="506.300">2</text><text x="362" y="524.400">1</text><text x="362" y="543.400">0</text>
  </g>
  <path d="M364.400 448.600 h1.500 M364.400 467.500 h1.500 M364.400 486 h1.500 M364.400 504.900 h1.500 M364.400 523 h1.500 M382.300 448.600 h-1.500 M382.300 467.500 h-1.500 M382.300 486 h-1.500 M382.300 504.900 h-1.500 M382.300 523 h-1.500" stroke="#333" stroke-width="0.500"/>
</g>

<!--CENTER_END-->
</svg>
</body>
</html>
